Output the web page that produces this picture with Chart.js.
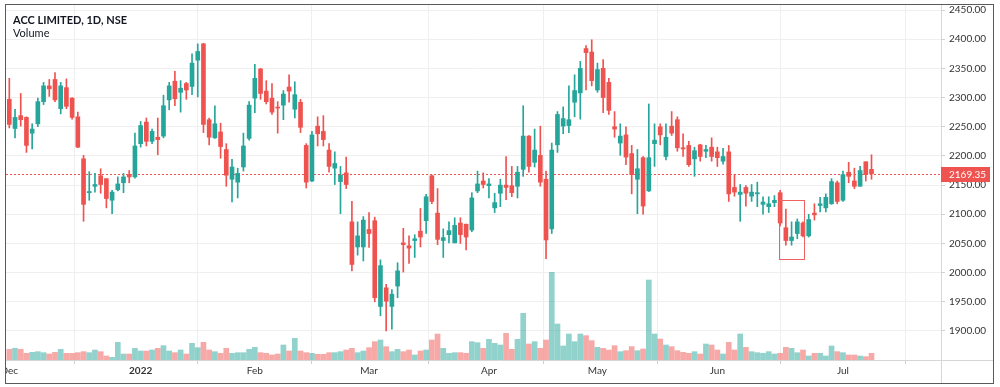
<!DOCTYPE html>
<html>
<head>
<meta charset="utf-8">
<script src="https://cdn.jsdelivr.net/npm/chart.js@4.4.0/dist/chart.umd.min.js"></script>
<style>
html, body { margin: 0; padding: 0; background: #fff; }
#frame { position: absolute; left: 5px; top: 4px; width: 987px; height: 378px; border: 1px solid #5a5a5a; overflow: hidden; }
#legend { position: absolute; left: 7px; top: 9px; font-family: Lato, sans-serif; font-size: 11px; line-height: 12.6px; color: #131722; pointer-events: none; }
#legend b { font-weight: bold; }
</style>
</head>
<body>
<div id="frame">
  <canvas id="chart" width="987" height="378"></canvas>
  <div id="legend"><b>ACC LIMITED, 1D, NSE</b><br>Volume</div>
</div>
<script>
// trading days shown (1D bars)
const dates = [
  '2021-12-01','2021-12-02','2021-12-03','2021-12-06','2021-12-07','2021-12-08','2021-12-09','2021-12-10','2021-12-13','2021-12-14','2021-12-15','2021-12-16','2021-12-17','2021-12-20','2021-12-21','2021-12-22','2021-12-23','2021-12-24','2021-12-27','2021-12-28','2021-12-29','2021-12-30','2021-12-31',
  '2022-01-03','2022-01-04','2022-01-05','2022-01-06','2022-01-07','2022-01-10','2022-01-11','2022-01-12','2022-01-13','2022-01-14','2022-01-17','2022-01-18','2022-01-19','2022-01-20','2022-01-21','2022-01-24','2022-01-25','2022-01-27','2022-01-28','2022-01-31',
  '2022-02-01','2022-02-02','2022-02-03','2022-02-04','2022-02-07','2022-02-08','2022-02-09','2022-02-10','2022-02-11','2022-02-14','2022-02-15','2022-02-16','2022-02-17','2022-02-18','2022-02-21','2022-02-22','2022-02-23','2022-02-24','2022-02-25','2022-02-28',
  '2022-03-02','2022-03-03','2022-03-04','2022-03-07','2022-03-08','2022-03-09','2022-03-10','2022-03-11','2022-03-14','2022-03-15','2022-03-16','2022-03-17','2022-03-21','2022-03-22','2022-03-23','2022-03-24','2022-03-25','2022-03-28','2022-03-29','2022-03-30','2022-03-31',
  '2022-04-01','2022-04-04','2022-04-05','2022-04-06','2022-04-07','2022-04-08','2022-04-11','2022-04-12','2022-04-13','2022-04-18','2022-04-19','2022-04-20','2022-04-21','2022-04-22','2022-04-25','2022-04-26','2022-04-27','2022-04-28','2022-04-29',
  '2022-05-02','2022-05-04','2022-05-05','2022-05-06','2022-05-09','2022-05-10','2022-05-11','2022-05-12','2022-05-13','2022-05-16','2022-05-17','2022-05-18','2022-05-19','2022-05-20','2022-05-23','2022-05-24','2022-05-25','2022-05-26','2022-05-27','2022-05-30','2022-05-31',
  '2022-06-01','2022-06-02','2022-06-03','2022-06-06','2022-06-07','2022-06-08','2022-06-09','2022-06-10','2022-06-13','2022-06-14','2022-06-15','2022-06-16','2022-06-17','2022-06-20','2022-06-21','2022-06-22','2022-06-23','2022-06-24','2022-06-27','2022-06-28','2022-06-29','2022-06-30',
  '2022-07-01','2022-07-04','2022-07-05','2022-07-06','2022-07-07','2022-07-08'
];

const opens = [
  2297,2247,2269,2266,2239,2255,2293,2320,2331,2281,2317,2299,2267,2195,2137,2148,2166,2161,2124,2142,2154,2168,2164,
  2221,2258,2225,2232,2234,2296,2328,2309,2324,2319,2364,2392,2262,2231,2241,2211,2160,2155,2181,2230,
  2299,2349,2311,2299,2283,2287,2318,2280,2292,2218,2157,2251,2242,2210,2179,2156,2171,
  2087,2044,2044,2074,2089,1942,1974,1942,1977,2051,2046,2055,2071,2089,2166,2102,2055,2065,2051,2085,2083,
  2073,2140,2157,2149,2111,2136,2150,2149,2148,2177,2234,2189,2201,2160,2075,2219,2251,2252,2292,2308,
  2384,2378,2313,2350,2326,2250,2222,2236,2204,2160,2197,2140,2221,2250,2199,2251,2262,2214,2218,2195,2219,2208,2215,2207,2191,
  2207,2146,2134,2146,2131,2135,2117,2113,2120,2137,2077,2055,2067,2085,2063,2102,2115,2111,2118,2154,2124,
  2172,2157,2148,2190,2177
];
const highs = [
  2333,2280,2307,2267,2255,2299,2326,2331,2343,2326,2332,2300,2275,2201,2173,2170,2178,2161,2141,2164,2170,2175,2239,
  2259,2265,2246,2265,2304,2326,2345,2329,2326,2375,2392,2393,2265,2286,2256,2221,2194,2179,2239,2293,
  2357,2350,2329,2324,2293,2312,2339,2327,2297,2221,2242,2267,2269,2221,2207,2182,2198,
  2122,2087,2096,2103,2095,2022,1980,1971,2017,2076,2063,2065,2110,2134,2167,2144,2075,2087,2094,2094,2083,
  2137,2174,2171,2161,2136,2160,2199,2182,2182,2286,2235,2246,2251,2174,2222,2276,2284,2320,2339,2362,
  2389,2399,2359,2365,2333,2276,2255,2250,2218,2211,2199,2289,2255,2255,2255,2276,2267,2238,2225,2215,2220,2218,2231,2215,2213,
  2218,2168,2151,2149,2151,2155,2130,2130,2132,2141,2109,2087,2092,2087,2100,2118,2129,2135,2161,2157,2174,
  2189,2179,2182,2190,2202
];
const lows = [
  2248,2231,2251,2206,2212,2250,2288,2302,2293,2272,2281,2263,2214,2088,2124,2138,2136,2111,2101,2140,2137,2154,2162,
  2215,2217,2221,2202,2231,2279,2286,2275,2297,2305,2301,2240,2219,2230,2196,2148,2121,2128,2174,2227,
  2274,2297,2289,2271,2239,2262,2292,2265,2240,2145,2156,2217,2217,2172,2151,2101,2144,
  2003,2030,2020,2043,1950,1926,1900,1903,1957,2001,2016,2026,2044,2067,2118,2048,2026,2051,2051,2050,2039,
  2070,2137,2145,2128,2103,2113,2125,2130,2128,2165,2172,2181,2148,2024,2067,2206,2238,2240,2267,2263,
  2313,2320,2309,2274,2271,2232,2201,2185,2135,2101,2100,2139,2182,2219,2193,2235,2208,2199,2182,2165,2191,2197,2191,2182,2186,
  2122,2131,2088,2114,2122,2113,2100,2103,2113,2080,2047,2047,2058,2061,2061,2090,2104,2104,2117,2118,2122,
  2154,2144,2148,2157,2160
];
const closes = [
  2254,2266,2262,2218,2246,2293,2320,2315,2296,2320,2285,2266,2215,2117,2139,2151,2151,2127,2138,2152,2164,2164,2217,
  2252,2225,2242,2228,2286,2320,2298,2316,2313,2359,2379,2254,2232,2255,2216,2167,2181,2170,2217,2287,
  2333,2307,2293,2275,2282,2306,2311,2305,2249,2155,2236,2238,2228,2182,2187,2167,2151,
  2014,2063,2090,2067,1957,2012,1951,1963,2003,2048,2042,2058,2061,2130,2122,2057,2060,2072,2081,2065,2061,
  2128,2152,2151,2152,2120,2150,2146,2137,2172,2234,2182,2210,2155,2056,2210,2271,2264,2262,2312,2350,
  2377,2329,2348,2300,2278,2246,2234,2198,2168,2178,2114,2197,2227,2236,2232,2239,2214,2212,2185,2209,2199,2211,2199,2197,2199,
  2135,2138,2138,2136,2138,2137,2121,2118,2124,2085,2055,2061,2087,2063,2091,2099,2118,2129,2156,2122,2168,
  2165,2148,2175,2168,2169.35
];
// volume, thousands of shares (approx.)
const volumes = [
  320,350,320,200,230,250,220,180,230,320,200,200,220,250,220,300,250,120,80,530,180,180,350,
  270,270,300,350,430,270,220,300,180,500,370,530,300,250,200,350,200,220,220,320,
  380,220,200,150,180,450,270,650,270,220,200,170,170,220,220,250,300,
  350,220,270,370,550,600,400,250,320,250,300,150,270,300,600,780,350,200,220,220,200,
  550,520,350,620,500,450,800,320,620,1400,480,550,350,600,2630,1080,420,780,550,780,
  730,580,380,350,300,430,250,280,400,280,330,2400,780,630,450,400,280,230,200,250,180,480,450,300,180,
  530,300,780,380,250,220,200,250,180,200,380,350,220,300,120,200,200,120,420,250,220,
  150,150,120,100,200
];

const monthLabels = ['Dec', '2022', 'Feb', 'Mar', 'Apr', 'May', 'Jun', 'Jul'];
const priceTicks = [1900, 1950, 2000, 2050, 2100, 2150, 2200, 2250, 2300, 2350, 2400, 2450];
const lastClose = closes[closes.length - 1];
// highlighted setup (bar index range and price range)
const boxBars = [135, 139];
const boxPrices = [2023, 2124];

const UP = '#26a69a', DOWN = '#ef5350';
const UP_VOL = 'rgba(38,166,154,0.5)', DOWN_VOL = 'rgba(239,83,80,0.5)';

const monthStarts = [];
dates.forEach((d, i) => {
  if (i === 0 || d.slice(0, 7) !== dates[i - 1].slice(0, 7)) monthStarts.push(i);
});

const idx = dates.map((d, i) => i);
const isUp = i => closes[i] >= opens[i];

const overlay = {
  id: 'overlay',
  beforeDatasetsDraw(chart) {
    const {ctx, chartArea, scales} = chart;
    const y = Math.round(scales.y.getPixelForValue(lastClose)) + 0.5;
    ctx.save();
    ctx.strokeStyle = DOWN;
    ctx.lineWidth = 1;
    ctx.setLineDash([2, 2]);
    ctx.beginPath();
    ctx.moveTo(chartArea.left, y);
    ctx.lineTo(chartArea.right, y);
    ctx.stroke();
    ctx.restore();
  },
  afterDraw(chart) {
    const {ctx, chartArea, scales, width, height} = chart;
    ctx.save();
    // highlight box
    const x1 = scales.x.getPixelForValue(boxBars[0]) - 1;
    const x2 = scales.x.getPixelForValue(boxBars[1]) + 1;
    const yt = scales.y.getPixelForValue(boxPrices[1]);
    const yb = scales.y.getPixelForValue(boxPrices[0]);
    ctx.strokeStyle = '#f0625f';
    ctx.lineWidth = 1;
    ctx.strokeRect(Math.round(x1) + 0.5, Math.round(yt) + 0.5, Math.round(x2 - x1), Math.round(yb - yt));
    // pane borders
    ctx.strokeStyle = '#d6d6d6';
    ctx.beginPath();
    ctx.moveTo(Math.round(chartArea.right) + 0.5, 0);
    ctx.lineTo(Math.round(chartArea.right) + 0.5, height);
    ctx.moveTo(0, Math.round(chartArea.bottom) + 0.5);
    ctx.lineTo(width, Math.round(chartArea.bottom) + 0.5);
    ctx.stroke();
    // last price label
    const y = scales.y.getPixelForValue(lastClose);
    ctx.fillStyle = DOWN;
    ctx.fillRect(chartArea.right, Math.round(y) - 7, 49, 15);
    ctx.fillStyle = '#fff';
    ctx.font = '10px Lato';
    ctx.textBaseline = 'middle';
    ctx.textAlign = 'left';
    ctx.fillText(lastClose.toFixed(2), chartArea.right + 8, Math.round(y) + 0.5);
    ctx.restore();
  }
};

new Chart(document.getElementById('chart'), {
  type: 'bar',
  data: {
    datasets: [
      {
        label: 'Body',
        data: idx.map(i => ({x: i, y: [opens[i], closes[i]]})),
        backgroundColor: idx.map(i => isUp(i) ? UP : DOWN),
        barThickness: 4,
        minBarLength: 1,
        grouped: false,
        yAxisID: 'y',
        order: 1
      },
      {
        label: 'Wick',
        data: idx.map(i => ({x: i, y: [lows[i], highs[i]]})),
        backgroundColor: idx.map(i => isUp(i) ? UP : DOWN),
        barThickness: 1,
        grouped: false,
        yAxisID: 'y',
        order: 2
      },
      {
        label: 'Volume',
        data: idx.map(i => ({x: i, y: volumes[i]})),
        backgroundColor: idx.map(i => isUp(i) ? UP_VOL : DOWN_VOL),
        barThickness: 5,
        grouped: false,
        yAxisID: 'y1',
        order: 3
      }
    ]
  },
  options: {
    responsive: false,
    animation: false,
    devicePixelRatio: 1,
    layout: {padding: 0},
    plugins: {legend: {display: false}, tooltip: {enabled: false}},
    scales: {
      x: {
        type: 'linear',
        offset: false,
        min: -0.58,
        max: 163.17,
        afterBuildTicks: ax => { ax.ticks = monthStarts.map(v => ({value: v})); },
        afterFit: ax => { ax.height = 23; ax.paddingLeft = 0; ax.paddingRight = 0; },
        grid: {color: '#efefef', tickLength: 4, tickColor: '#cfcfcf'},
        border: {display: false},
        ticks: {
          autoSkip: false,
          maxRotation: 0,
          padding: 1,
          color: '#333',
          font: c => ({family: 'Lato', size: 10, weight: c.index === 1 ? 'bold' : 'normal'}),
          callback: (v, i) => monthLabels[i]
        }
      },
      y: {
        position: 'right',
        min: 1850.3,
        max: 2458.6,
        afterBuildTicks: ax => { ax.ticks = priceTicks.map(v => ({value: v})); },
        afterFit: ax => { ax.width = 52; ax.paddingTop = 0; ax.paddingBottom = 0; },
        grid: {color: '#efefef', tickLength: 4, tickColor: '#cfcfcf'},
        border: {display: false},
        ticks: {
          padding: 4,
          color: '#333',
          font: {family: 'Lato', size: 10},
          callback: v => Number(v).toFixed(2)
        }
      },
      y1: {
        display: false,
        min: 0,
        max: 10650
      }
    }
  },
  plugins: [overlay]
});
</script>
</body>
</html>
